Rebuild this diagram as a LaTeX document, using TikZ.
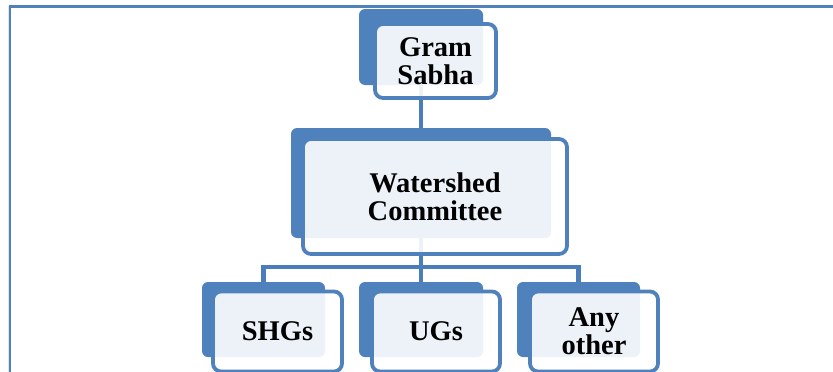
\documentclass[tikz,border=0pt]{standalone}
\usepackage{fontspec}
\setmainfont{Liberation Serif}
\definecolor{boxblue}{RGB}{79,129,189}
\definecolor{lineblue}{RGB}{74,126,187}
\tikzset{
  backbox/.style={rectangle, rounded corners=6pt, fill=boxblue, inner sep=0pt},
  frontbox/.style={rectangle, rounded corners=8pt, draw=boxblue, line width=3.8pt,
    fill=white, fill opacity=0.9, text opacity=1, inner sep=0pt, align=center,
    font=\fontsize{28.5}{28}\selectfont\bfseries},
  link/.style={draw=lineblue, line width=4.2pt}
}
\begin{document}
\begin{tikzpicture}[x=1pt,y=-1pt]
   \useasboundingbox (0,0) rectangle (833,372);
   % page frame
   \draw[gray!20, line width=1pt] (8.3,372) -- (8.3,6);
   \draw[boxblue, line width=2.2pt] (10,372) -- (10,6.5) -- (833,6.5);
   % back boxes
   \node[backbox, minimum width=124pt, minimum height=76pt] (gsb) at (421,47) {};
   \node[backbox, minimum width=260pt, minimum height=110pt] (wcb) at (421,183) {};
   \node[backbox, minimum width=123pt, minimum height=75pt] (shgb) at (263.5,319.5) {};
   \node[backbox, minimum width=124pt, minimum height=75pt] (ugb) at (421,319.5) {};
   \node[backbox, minimum width=123pt, minimum height=75pt] (anyb) at (578.5,319.5) {};
   % connectors
   \coordinate (bar) at (421,267);
   \draw[link] (gsb.south) -- (wcb.north);
   \draw[link] (wcb.south) -- (bar);
   \draw[link] (shgb.north) |- (bar) -| (anyb.north);
   \draw[link] (bar) -- (ugb.north);
   % front boxes
   \node[frontbox, minimum width=121pt, minimum height=74pt] (gs) at (435.5,61) {Gram\\Sabha};
   \node[frontbox, minimum width=264pt, minimum height=115pt] (wc) at (435,196.5) {Watershed\\Committee};
   \node[frontbox, minimum width=129pt, minimum height=80pt] (shg) at (277.5,331.5) {SHGs};
   \node[frontbox, minimum width=128pt, minimum height=80pt] (ug) at (436,331.5) {UGs};
   \node[frontbox, minimum width=128pt, minimum height=80pt] (any) at (594,331.5) {Any\\other};
\end{tikzpicture}
\end{document}
